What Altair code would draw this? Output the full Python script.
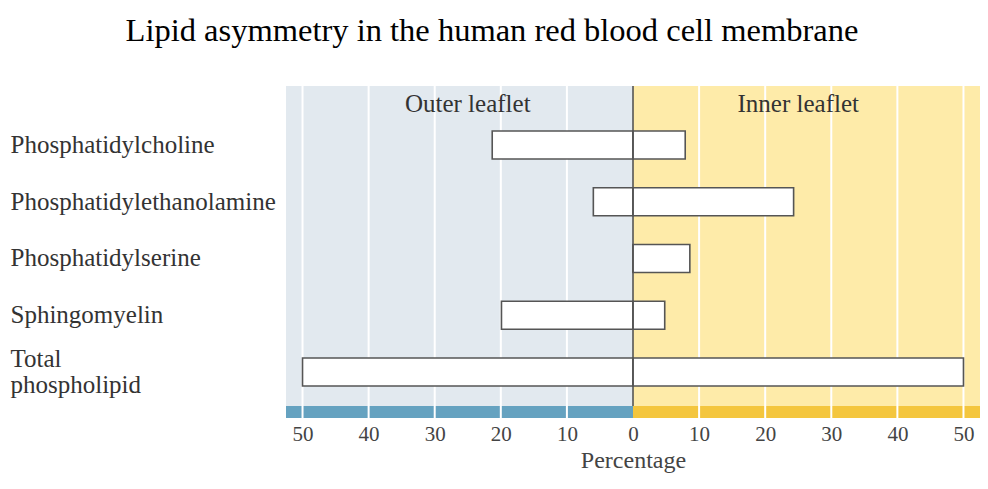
import altair as alt
import pandas as pd

categories = ["Phosphatidylcholine", "Phosphatidylethanolamine", "Phosphatidylserine",
              "Sphingomyelin", "Total\nphospholipid"]
outer_pct = [21.3, 6.0, 0.0, 19.9, 50.0]
inner_pct = [7.9, 24.3, 8.6, 4.8, 50.0]
tick_values = [-50, -40, -30, -20, -10, 0, 10, 20, 30, 40, 50]
grid_values = [-50, -40, -30, -20, -10, 10, 20, 30, 40, 50]
leaflets = ["Outer leaflet", "Inner leaflet"]
leaflet_centers = [-25, 25]
panel_start = [-52.5, 0]
panel_end = [0, 52.5]

W, H = 694, 332
FONT = "Liberation Serif"
XDOM = [-52.5, 52.5]
xs = alt.Scale(domain=XDOM, nice=False, zero=False)

bars_rows = []
for c, o, i in zip(categories, outer_pct, inner_pct):
    bars_rows.append({"cat": c, "start": -o, "end": 0})
    bars_rows.append({"cat": c, "start": 0, "end": i})
bars_df = pd.DataFrame(bars_rows)

panels_df = pd.DataFrame({"start": panel_start, "end": panel_end, "side": leaflets})

bg = alt.Chart(panels_df).mark_rect().encode(
    x=alt.X("start:Q", scale=xs, axis=alt.Axis(values=tick_values, labelExpr="abs(datum.value)",
                                                 title="Percentage", grid=False, ticks=False, domain=False,
                                                 labelFont=FONT, labelFontSize=21, labelColor="#444",
                                                 labelPadding=5, titleFont=FONT, titleFontSize=24,
                                                 titleFontWeight="normal", titleColor="#444",
                                                 titlePadding=4)),
    x2="end:Q",
    y=alt.value(0), y2=alt.value(H),
    color=alt.Color("side:N", scale=alt.Scale(domain=leaflets, range=["#e2e9ef", "#feeba9"]), legend=None),
)

strip = alt.Chart(panels_df).mark_rect().encode(
    x=alt.X("start:Q", scale=xs), x2="end:Q",
    y=alt.value(H - 12), y2=alt.value(H),
    fill=alt.Fill("side:N", scale=alt.Scale(domain=leaflets, range=["#65a2c0", "#f4c63e"]), legend=None),
)

grid = alt.Chart(pd.DataFrame({"v": grid_values})).mark_rule(color="white", strokeWidth=2).encode(
    x=alt.X("v:Q", scale=xs), y=alt.value(0), y2=alt.value(H)
)

bars = alt.Chart(bars_df).mark_rect(fill="white", stroke="#555", strokeWidth=1.6).encode(
    x=alt.X("start:Q", scale=xs), x2="end:Q",
    y=alt.Y("cat:N", sort=categories,
            scale=alt.Scale(domain=categories, paddingInner=0.507, paddingOuter=0.679, align=0.584),
            axis=alt.Axis(title=None, orient="left", labelAlign="left", labelPadding=276, ticks=False,
                          domain=False, labelFont=FONT, labelFontSize=25, labelColor="#333",
                          labelLimit=400, labelLineHeight=26, labelBaseline="middle",
                          labelOffset={"condition": {"test": "indexof(datum.value, 'Total') >= 0",
                                                     "value": -13}, "value": 0},
                          labelExpr="split(datum.label, '\\n')")),
)

zero = alt.Chart(pd.DataFrame({"v": [0]})).mark_rule(color="#555", strokeWidth=1.6).encode(
    x=alt.X("v:Q", scale=xs), y=alt.value(0), y2=alt.value(H - 12)
)

headers = alt.Chart(pd.DataFrame({"x": leaflet_centers, "t": leaflets})).mark_text(
    font=FONT, fontSize=25, color="#333", baseline="middle"
).encode(x=alt.X("x:Q", scale=xs), y=alt.value(18), text="t:N")

chart = alt.layer(bg, strip, grid, bars, zero, headers).properties(
    width=W, height=H,
    title=alt.TitleParams("Lipid asymmetry in the human red blood cell membrane", font=FONT,
                          fontSize=32.5, fontWeight="normal", color="black", anchor="middle",
                          dx=-141, baseline="alphabetic", offset=12),
    padding={"left": 278, "top": 78, "right": 0, "bottom": 60},
    autosize=alt.AutoSizeParams(type="none"),
    background="white",
).configure_view(stroke=None)

chart.save("out.html", embed_options={"renderer": "svg", "actions": False})
